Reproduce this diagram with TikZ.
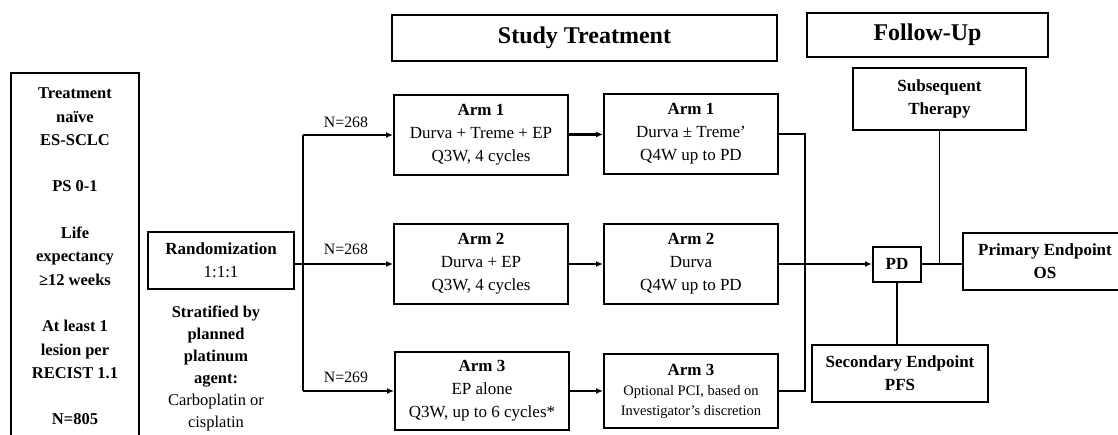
\documentclass[tikz,border=0pt]{standalone}
\usepackage{fontspec}
\setmainfont{Liberation Serif}
\usetikzlibrary{arrows.meta}

\tikzset{
  box/.style={draw, line width=2pt, align=center, inner sep=2pt},
  armbox/.style={box, minimum width=174, minimum height=80, font=\fontsize{17}{23}\selectfont},
  bigtitle/.style={box, font=\bfseries\fontsize{24}{28}\selectfont},
  nlabel/.style={font=\fontsize{15.8}{18}\selectfont},
  conn/.style={line width=1.8pt},
  thickconn/.style={line width=2.8pt}
}

\begin{document}
\begin{tikzpicture}[x=1pt, y=-1pt, >={Latex[length=7pt,width=6pt]}]
  \useasboundingbox (0,0) rectangle (1118,434);
  \clip (0,0) rectangle (1118,434);

  % headers
  \node[bigtitle, minimum width=385, minimum height=46] (study) at (584.5,38) {Study Treatment};
  \node[bigtitle, minimum width=241, minimum height=44] (follow) at (927.5,35) {Follow-Up};

  % eligibility
  \node[box, minimum width=128, minimum height=367, font=\bfseries\fontsize{16.5}{23.3}\selectfont] (elig) at (75,256.5)
    {Treatment\\ naïve\\ ES-SCLC\\[23.3pt] PS 0-1\\[23.3pt] Life\\ expectancy\\ ≥12 weeks\\[23.3pt] At least 1\\ lesion per\\ RECIST 1.1\\[23.3pt] N=805};

  % randomization
  \node[box, minimum width=146, minimum height=57, font=\fontsize{17}{23}\selectfont] (rand) at (221,260.5)
    {\textbf{Randomization}\\ 1:1:1};
  \node[align=center, font=\fontsize{16.5}{22}\selectfont] (strat) at (216,368)
    {\textbf{Stratified by}\\ \textbf{planned}\\ \textbf{platinum}\\ \textbf{agent:}\\ Carboplatin or\\ cisplatin};

  % arms
  \node[armbox] (arm1a) at (481,135) {\textbf{Arm 1}\\ Durva + Treme + EP\\ Q3W, 4 cycles};
  \node[armbox] (arm2a) at (481,264) {\textbf{Arm 2}\\ Durva + EP\\ Q3W, 4 cycles};
  \node[armbox, minimum height=78] (arm3a) at (482,391) {\textbf{Arm 3}\\ EP alone\\ Q3W, up to 6 cycles*};
  \node[armbox] (arm1b) at (691,134) {\textbf{Arm 1}\\ Durva ± Treme'\\ Q4W up to PD};
  \node[armbox] (arm2b) at (691,264) {\textbf{Arm 2}\\ Durva\\ Q4W up to PD};
  \node[armbox, minimum height=74, font=\fontsize{14.5}{20}\selectfont] (arm3b) at (691,391)
    {\fontsize{17}{20}\selectfont\textbf{Arm 3}\\ Optional PCI, based on\\ Investigator's discretion};

  % follow-up
  \node[box, minimum width=48, minimum height=35, font=\bfseries\fontsize{17}{20}\selectfont] (pd) at (897,264) {PD};
  \node[box, minimum width=173, minimum height=62, font=\bfseries\fontsize{17}{23}\selectfont] (subs) at (939.5,99) {Subsequent\\ Therapy};
  \node[box, minimum width=164, minimum height=57, font=\bfseries\fontsize{17}{23}\selectfont] (prim) at (1045,261.5) {Primary Endpoint\\ OS};
  \node[box, minimum width=176, minimum height=57, font=\bfseries\fontsize{17}{23}\selectfont] (sec) at (900,373.5) {Secondary Endpoint\\ PFS};

  % N labels
  \node[nlabel] (n1) at (346,122) {N=268};
  \node[nlabel] (n2) at (346,249) {N=268};
  \node[nlabel] (n3) at (346,377) {N=269};

  % connectors
  \coordinate (split) at (303,264);
  \coordinate (merge) at (805,264);
  \draw[thickconn, ->] (rand.east |- arm2a) -- (arm2a.west);
  \draw[conn] (split |- arm1a) -- (split |- arm3a);
  \draw[conn, ->] (split |- arm1a) -- (arm1a.west);
  \draw[conn, ->] (split |- arm3a) -- (arm3a.west);
  \draw[thickconn, ->] (arm1a) -- (arm1b);
  \draw[conn, ->] (arm2a) -- (arm2b);
  \draw[conn, ->] (arm3a) -- (arm3b);
  \draw[conn] (arm1b.east) -| (merge) |- (arm3b.east);
  \draw[conn] (arm2b.east) -- (merge);
  \draw[thickconn, ->] (merge) -- (pd.west);
  \draw[thickconn] (pd.east) -- (prim.west |- pd.east);
  \draw[conn] (subs.south) -- (subs.south |- pd.east);
  \draw[conn] (pd.south) -- (pd.south |- sec.north);
\end{tikzpicture}
\end{document}
